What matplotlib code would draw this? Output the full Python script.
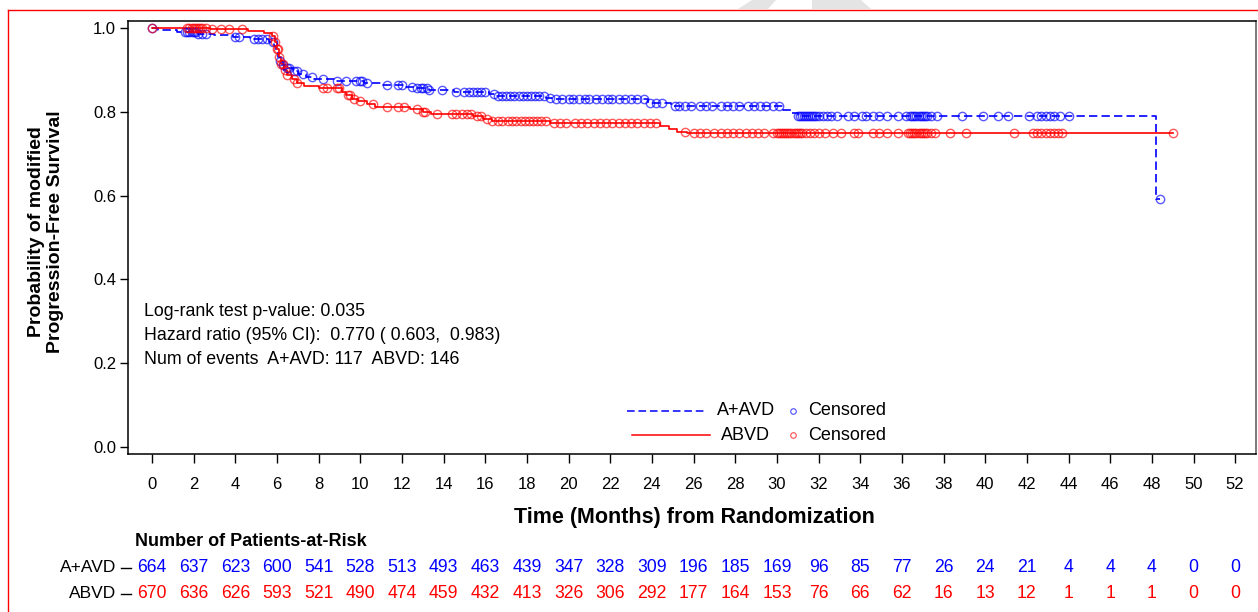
import numpy as np
import matplotlib
matplotlib.use('Agg')
import matplotlib.pyplot as plt
from matplotlib.lines import Line2D
from matplotlib.patches import Polygon
import matplotlib.transforms as mtransforms
from matplotlib.ticker import FormatStrFormatter

plt.rcParams['font.family'] = ['Liberation Sans', 'DejaVu Sans']

# Kaplan-Meier steps (month, survival after the step)
aavd_t = [0, 0.3, 1.2, 2.2, 3.0, 3.9, 4.7, 5.6, 5.85, 5.95, 6.05, 6.15, 6.3, 6.5, 6.75, 7.0, 7.4, 7.8,
          8.8, 10.2, 11.0, 12.2, 12.6, 13.3, 14.5, 16.2, 16.5, 18.9, 19.2, 23.8, 24.9, 30.3, 30.7, 31.0, 48.2]
aavd_s = [1.0, 0.995, 0.991, 0.987, 0.984, 0.978, 0.974, 0.968, 0.958, 0.945, 0.932, 0.922, 0.913, 0.905,
          0.897, 0.890, 0.884, 0.879, 0.875, 0.870, 0.865, 0.859, 0.856, 0.852, 0.848, 0.843, 0.838, 0.834,
          0.830, 0.821, 0.813, 0.805, 0.797, 0.790, 0.592]
abvd_t = [0, 2.8, 4.6, 5.4, 5.75, 5.9, 6.0, 6.1, 6.2, 6.35, 6.5, 6.7, 6.95, 7.3, 8.0, 9.1, 9.3, 9.6, 9.9,
          10.3, 10.7, 12.4, 13.0, 13.4, 15.4, 15.9, 16.3, 19.1, 24.4, 24.8, 25.2, 25.7]
abvd_s = [1.0, 0.998, 0.994, 0.989, 0.982, 0.968, 0.950, 0.932, 0.915, 0.900, 0.888, 0.878, 0.868, 0.862,
          0.857, 0.848, 0.840, 0.832, 0.825, 0.818, 0.812, 0.806, 0.800, 0.795, 0.790, 0.784, 0.779, 0.774,
          0.766, 0.758, 0.752, 0.749]

# censored times
aavd_cens = [0.0, 1.6, 1.7, 1.8, 1.9, 2.0, 2.1, 2.2, 2.4, 2.6, 4.0, 4.2, 4.9, 5.1, 5.3, 5.5, 5.8, 6.15, 6.3,
             6.5, 6.6, 6.8, 6.95, 7.25, 7.7, 8.2, 8.9, 9.3, 9.8, 10.0, 10.1, 10.3, 11.3, 11.8, 12.0, 12.5,
             12.7, 12.9, 13.0, 13.2, 13.3, 13.9, 14.6, 15.0, 15.2, 15.4, 15.6, 15.8, 16.0, 16.4, 16.6, 16.8,
             17.0, 17.2, 17.4, 17.6, 17.8, 18.0, 18.2, 18.4, 18.6, 18.8, 19.1, 19.4, 19.7, 20.0, 20.2, 20.5,
             20.8, 21.0, 21.3, 21.6, 21.9, 22.1, 22.4, 22.7, 23.0, 23.3, 23.6, 23.9, 24.2, 24.5, 25.1, 25.3,
             25.6, 25.9, 26.3, 26.6, 26.9, 27.3, 27.6, 27.9, 28.2, 28.6, 28.9, 29.2, 29.5, 29.8, 30.1, 31.0,
             31.1, 31.2, 31.3, 31.4, 31.5, 31.6, 31.7, 31.8, 31.9, 32.0, 32.2, 32.4, 32.6, 32.9, 33.4, 33.7,
             34.1, 34.3, 34.6, 34.9, 35.3, 35.8, 36.2, 36.4, 36.5, 36.6, 36.7, 36.8, 36.9, 37.0, 37.1, 37.2,
             37.4, 37.7, 38.9, 39.9, 40.6, 41.1, 42.1, 42.5, 42.7, 42.9, 43.1, 43.3, 43.6, 44.0, 48.4]
abvd_cens = [0.0, 1.7, 1.8, 1.9, 2.0, 2.1, 2.2, 2.3, 2.4, 2.6, 2.9, 3.3, 3.7, 4.3, 5.8, 5.9, 6.0, 6.05, 6.1,
             6.2, 6.3, 6.4, 6.5, 6.8, 6.95, 8.2, 8.4, 8.9, 9.0, 9.4, 9.5, 9.7, 10.0, 10.6, 11.3, 11.8, 12.1,
             12.7, 13.0, 13.1, 13.7, 14.4, 14.6, 14.9, 15.1, 15.3, 15.6, 15.8, 16.1, 16.3, 16.6, 16.8, 17.1,
             17.3, 17.5, 17.7, 17.9, 18.1, 18.3, 18.5, 18.7, 18.9, 19.3, 19.6, 19.9, 20.3, 20.6, 20.9, 21.2,
             21.5, 21.8, 22.1, 22.4, 22.7, 23.0, 23.3, 23.6, 23.9, 24.2, 25.6, 26.0, 26.3, 26.6, 27.0, 27.3,
             27.6, 27.9, 28.2, 28.5, 28.8, 29.1, 29.4, 29.8, 30.0, 30.1, 30.2, 30.3, 30.4, 30.5, 30.6, 30.7,
             30.8, 30.9, 31.0, 31.1, 31.2, 31.4, 31.6, 31.8, 32.0, 32.3, 32.7, 33.1, 33.7, 33.9, 34.6, 34.9,
             35.3, 35.8, 36.3, 36.4, 36.5, 36.6, 36.7, 36.8, 36.9, 37.0, 37.1, 37.2, 37.4, 37.6, 38.3, 39.1,
             41.4, 42.3, 42.5, 42.7, 42.9, 43.1, 43.3, 43.5, 43.7, 49.0]

risk_months = list(range(0, 54, 2))
aavd_risk = [664, 637, 623, 600, 541, 528, 513, 493, 463, 439, 347, 328, 309, 196, 185, 169, 96, 85, 77,
             26, 24, 21, 4, 4, 4, 0, 0]
abvd_risk = [670, 636, 626, 593, 521, 490, 474, 459, 432, 413, 326, 306, 292, 177, 164, 153, 76, 66, 62,
             16, 13, 12, 1, 1, 1, 0, 0]

stats_lines = ['Log-rank test p-value: 0.035',
               'Hazard ratio (95% CI):  0.770 ( 0.603,  0.983)',
               'Num of events  A+AVD: 117  ABVD: 146']

BLUE = '#0000ff'
RED = '#ff0000'
W, H = 1258, 612


def fx(px):
    return px / W


def fy(py):
    return 1 - py / H


def km_at(ts, ss, t):
    idx = np.searchsorted(ts, t, side='right') - 1
    return np.array(ss)[idx]


fig = plt.figure(figsize=(W / 100, H / 100), dpi=100)
ax = fig.add_axes([fx(128), fy(454), fx(1256) - fx(128), fy(20.7) - fy(454)])

ax.step(aavd_t + [aavd_cens[-1]], aavd_s + [aavd_s[-1]], where='post', color=BLUE, lw=1.2,
        ls=(0, (5, 2.5)))
ax.step(abvd_t + [abvd_cens[-1]], abvd_s + [abvd_s[-1]], where='post', color=RED, lw=1.2)
ax.plot(aavd_cens, km_at(aavd_t, aavd_s, aavd_cens), 'o', mfc='none', mec=BLUE, ms=6, mew=1.0,
        alpha=0.65)
ax.plot(abvd_cens, km_at(abvd_t, abvd_s, abvd_cens), 'o', mfc='none', mec=RED, ms=6, mew=1.0,
        alpha=0.65)

ax.set_xlim(-1.15, 53.0)
ax.set_ylim(-0.0175, 1.018)
ax.set_xticks(risk_months)
ax.set_yticks([0, 0.2, 0.4, 0.6, 0.8, 1.0])
ax.yaxis.set_major_formatter(FormatStrFormatter('%.1f'))
ax.tick_params(axis='x', direction='out', length=6.5, width=1, pad=10, labelsize=12)
ax.tick_params(axis='y', direction='out', length=5.5, width=1, pad=3, labelsize=12)
for sp in ax.spines.values():
    sp.set_linewidth(1.1)
ax.spines['right'].set_color('#555555')

# stats text
for i, s in enumerate(stats_lines):
    fig.text(fx(144), fy(311 + i * 24), s, fontsize=12.8, ha='left', va='center')

# legend drawn by hand
fig.add_artist(Line2D([fx(627), fx(705)], [fy(410.5), fy(410.5)], color=BLUE, lw=1.1, ls=(0, (5, 2.5))))
fig.add_artist(Line2D([fx(632), fx(710)], [fy(435), fy(435)], color=RED, lw=1.1))
fig.text(fx(717), fy(410.5), 'A+AVD', fontsize=13, ha='left', va='center')
fig.text(fx(721), fy(435), 'ABVD', fontsize=13, ha='left', va='center')
fig.add_artist(Line2D([fx(793)], [fy(410.5)], marker='o', mfc='none', mec=BLUE, ms=4, mew=0.8, alpha=0.7))
fig.add_artist(Line2D([fx(793)], [fy(435)], marker='o', mfc='none', mec=RED, ms=4, mew=0.8, alpha=0.7))
fig.text(fx(808), fy(410.5), 'Censored', fontsize=13, ha='left', va='center')
fig.text(fx(808), fy(435), 'Censored', fontsize=13, ha='left', va='center')

# axis titles
fig.text(fx(694), fy(518), 'Time (Months) from Randomization', fontsize=15.5, fontweight='bold',
         ha='center', va='center')
fig.text(fx(46), fy(232), 'Probability of modified\nProgression-Free Survival', fontsize=14,
         fontweight='bold', rotation=90, ha='center', va='center', multialignment='center',
         linespacing=1.15)

# number at risk table
fig.text(fx(135), fy(542), 'Number of Patients-at-Risk', fontsize=13, fontweight='bold',
         ha='left', va='center')
trans = mtransforms.blended_transform_factory(ax.transData, fig.transFigure)
for name, row, col, ypx in [('A+AVD', aavd_risk, BLUE, 568), ('ABVD', abvd_risk, RED, 594)]:
    fig.text(fx(116), fy(ypx), name, fontsize=12.5, ha='right', va='center')
    fig.add_artist(Line2D([fx(121), fx(131)], [fy(ypx), fy(ypx)], color='black', lw=1))
    for m, n in zip(risk_months, row):
        ax.text(m, fy(ypx), str(n), transform=trans, fontsize=12.7, color=col, ha='center',
                va='center', clip_on=False)

# page frame and faint watermark edge
fig.add_artist(Line2D([fx(8), fx(W)], [fy(9.5), fy(9.5)], color=RED, lw=1))
fig.add_artist(Line2D([fx(8), fx(8)], [fy(9.5), fy(H)], color=RED, lw=1))
fig.add_artist(Polygon([(fx(738), fy(9)), (fx(768), fy(9)), (fx(776), fy(0)), (fx(752), fy(0))],
                       closed=True, color='#e4e4e4', lw=0))
fig.add_artist(Polygon([(fx(812), fy(9)), (fx(871), fy(9)), (fx(861), fy(0)), (fx(812), fy(0))],
                       closed=True, color='#e4e4e4', lw=0))

fig.savefig('out.png', dpi=100)
